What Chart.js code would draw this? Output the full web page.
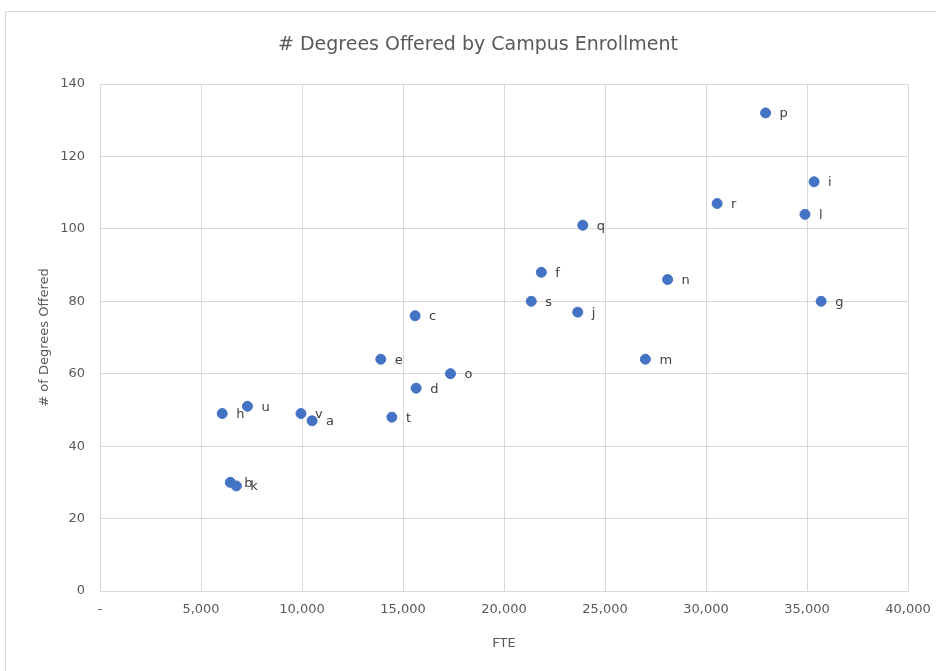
<!DOCTYPE html>
<html>
<head>
<meta charset="utf-8">
<script src="https://cdn.jsdelivr.net/npm/chart.js@4/dist/chart.umd.min.js"></script>
<style>
  html, body { margin: 0; padding: 0; background: #fff; }
  #wrap { position: relative; width: 936px; height: 671px; }
  #frame { position: absolute; left: 5px; top: 11px; width: 940px; height: 670px; border: 1px solid #d9d9d9; box-sizing: border-box; pointer-events: none; }
  canvas { position: absolute; left: 0; top: 0; }
</style>
</head>
<body>
<div id="wrap">
  <canvas id="c" width="936" height="671"></canvas>
  <div id="frame"></div>
</div>
<script>
const chartTitle = '# Degrees Offered by Campus Enrollment';
const campusLabels = ['a','b','c','d','e','f','g','h','i','j','k','l','m','n','o','p','q','r','s','t','u','v'];
const fteValues = [10500, 6450, 15600, 15650, 13900, 21850, 35700, 6050, 35350, 23650, 6750, 34900, 27000, 28100, 17350, 32950, 23900, 30550, 21350, 14450, 7300, 9950];
const degreeValues = [47, 30, 76, 56, 64, 88, 80, 49, 113, 77, 29, 104, 64, 86, 60, 132, 101, 107, 80, 48, 51, 49];
const xTicks = [0, 5000, 10000, 15000, 20000, 25000, 30000, 35000, 40000];
const yTicks = [0, 20, 40, 60, 80, 100, 120, 140];

const points = fteValues.map((x, i) => ({ x: x, y: degreeValues[i] }));

const textColor = '#595959';
const fontFam = '"DejaVu Sans", Arial, sans-serif';

const labelPlugin = {
  id: 'pointLabels',
  afterDatasetsDraw(chart) {
    const ctx = chart.ctx;
    const meta = chart.getDatasetMeta(0);
    ctx.save();
    ctx.font = '13px ' + fontFam;
    ctx.fillStyle = '#404040';
    ctx.textAlign = 'left';
    ctx.textBaseline = 'middle';
    meta.data.forEach((el, i) => {
      ctx.fillText(campusLabels[i], el.x + 14, el.y + 1);
    });
    // chart title
    ctx.font = '19px ' + fontFam;
    ctx.fillStyle = textColor;
    ctx.textAlign = 'center';
    ctx.fillText(chartTitle, 478, 45);
    ctx.restore();
  }
};

new Chart(document.getElementById('c'), {
  type: 'scatter',
  data: {
    datasets: [{
      label: 'Campuses',
      data: points,
      backgroundColor: '#4472C4',
      borderColor: '#4472C4',
      pointRadius: 5,
      pointHoverRadius: 5
    }]
  },
  options: {
    responsive: false,
    animation: false,
    layout: { padding: { left: 0, right: 28, top: 84, bottom: 0 } },
    plugins: {
      legend: { display: false },
      tooltip: { enabled: false },
      title: { display: false }
    },
    scales: {
      x: {
        type: 'linear',
        min: 0, max: 40000,
        afterBuildTicks(scale) { scale.ticks = xTicks.map(v => ({ value: v })); },
        afterFit(scale) { scale.height = 80; scale.paddingRight = 0; scale.paddingLeft = 0; },
        ticks: {
          color: textColor,
          font: { family: fontFam, size: 13 },
          padding: 11,
          maxRotation: 0,
          callback: v => v === 0 ? '-' : v.toLocaleString('en-US')
        },
        grid: { color: '#d9d9d9', drawTicks: false },
        border: { color: '#d9d9d9' },
        title: {
          display: true, text: 'FTE', color: textColor,
          font: { family: fontFam, size: 13 },
          padding: { top: 0, bottom: 20 }
        }
      },
      y: {
        type: 'linear',
        min: 0, max: 140,
        afterBuildTicks(scale) { scale.ticks = yTicks.map(v => ({ value: v })); },
        afterFit(scale) { scale.width = 100; },
        ticks: {
          color: textColor,
          font: { family: fontFam, size: 13 },
          padding: 15
        },
        grid: { color: '#d9d9d9', drawTicks: false },
        border: { color: '#d9d9d9' },
        title: {
          display: true, text: '# of Degrees Offered', color: textColor,
          font: { family: fontFam, size: 13 },
          padding: { top: 37, bottom: 0 }
        }
      }
    }
  },
  plugins: [labelPlugin]
});
</script>
</body>
</html>
